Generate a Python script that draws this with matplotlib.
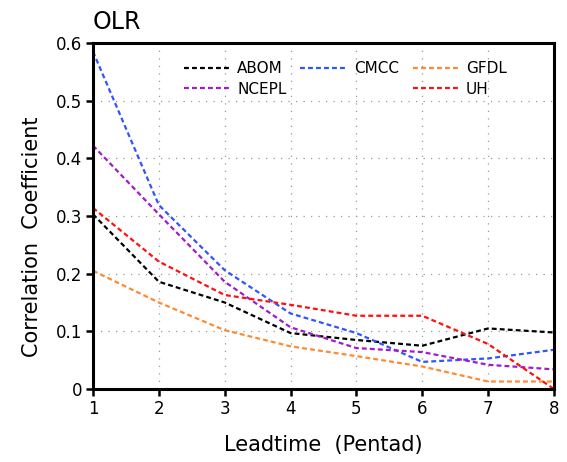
import matplotlib
matplotlib.use("Agg")
import matplotlib.pyplot as plt
from matplotlib.lines import Line2D

# lead time in pentads
leadtime = [1, 2, 3, 4, 5, 6, 7, 8]

# correlation coefficient per model
abom = [0.303, 0.186, 0.150, 0.097, 0.085, 0.075, 0.105, 0.098]
cmcc = [0.585, 0.319, 0.206, 0.131, 0.097, 0.047, 0.053, 0.068]
gfdl = [0.205, 0.150, 0.102, 0.074, 0.057, 0.039, 0.013, 0.013]
ncepl = [0.422, 0.303, 0.186, 0.107, 0.071, 0.064, 0.042, 0.034]
uh = [0.314, 0.221, 0.163, 0.146, 0.127, 0.127, 0.078, 0.0]

models = ["ABOM", "CMCC", "GFDL", "NCEPL", "UH"]
series = [abom, cmcc, gfdl, ncepl, uh]
colors = ["#000000", "#2F55FF", "#FF8A30", "#A21BC8", "#FF1010"]

fig = plt.figure(figsize=(5.67, 4.62), dpi=100)
ax = fig.add_axes([0.164, 0.158, 0.813, 0.749])

lines = {}
for name, vals, col in zip(models, series, colors):
    (ln,) = ax.plot(leadtime, vals, color=col, lw=1.6, dashes=(2.2, 1.4), label=name)
    lines[name] = ln

ax.set_xlim(1, 8)
ax.set_ylim(0, 0.6)
ax.set_xticks(leadtime)
ax.set_yticks([0, 0.1, 0.2, 0.3, 0.4, 0.5, 0.6])
ax.set_yticklabels(["0", "0.1", "0.2", "0.3", "0.4", "0.5", "0.6"])
ax.grid(True, color="#999999", linestyle=(0, (1, 5)), linewidth=0.9)
ax.tick_params(direction="out", length=5, width=1.8, labelsize=12, pad=3)
for sp in ax.spines.values():
    sp.set_linewidth(2.2)

ax.set_xlabel("Leadtime  (Pentad)", fontsize=15, labelpad=12)
ax.set_ylabel("Correlation  Coefficient", fontsize=15)
ax.yaxis.set_label_coords(-0.111, 0.44)
ax.set_title("OLR", loc="left", fontsize=17, pad=10)

# legend laid out in 3 columns, second row middle slot left empty
blank = Line2D([], [], color="none")
handles = [lines["ABOM"], lines["NCEPL"], lines["CMCC"], blank, lines["GFDL"], lines["UH"]]
labels = ["ABOM", "NCEPL", "CMCC", "", "GFDL", "UH"]
ax.legend(handles, labels, ncol=3, loc="upper left", bbox_to_anchor=(0.197, 0.947),
          frameon=False, fontsize=11, handlelength=3.1, handletextpad=0.4,
          columnspacing=0.9, labelspacing=0.35, borderpad=0, borderaxespad=0)

fig.savefig("out.png", dpi=100)
